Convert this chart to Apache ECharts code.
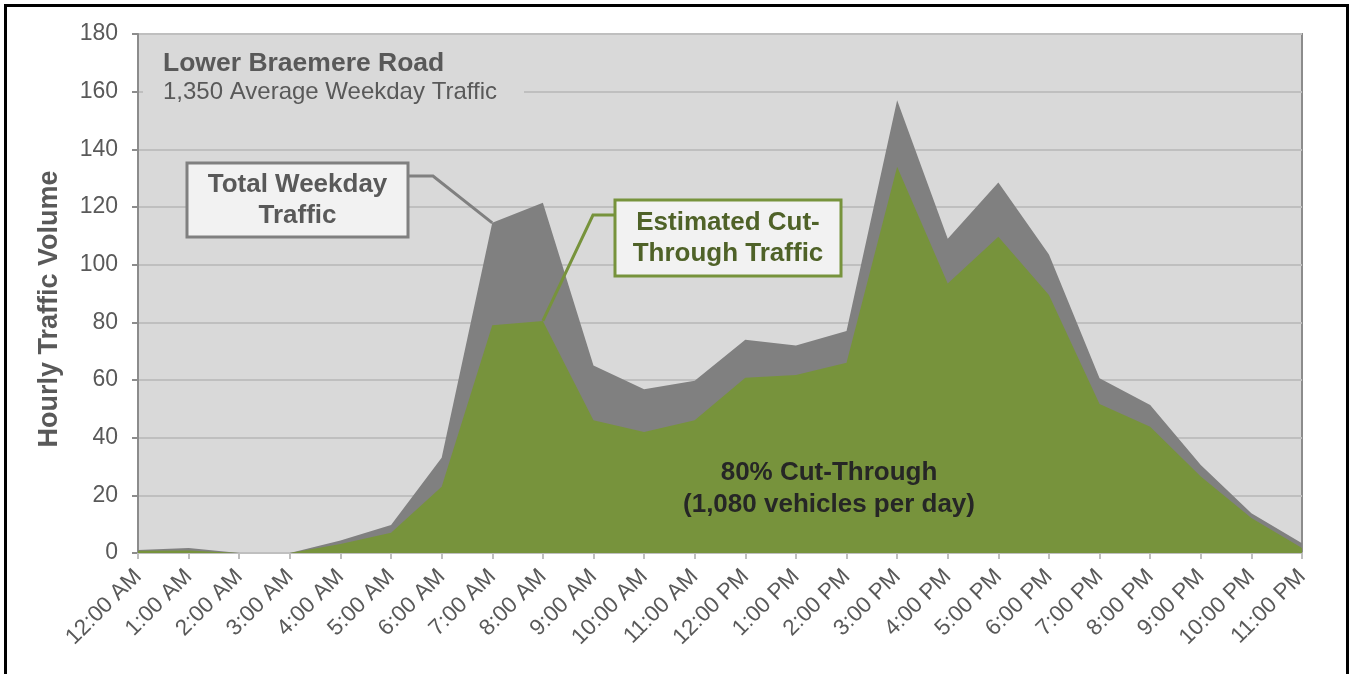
<!DOCTYPE html>
<html>
<head>
<meta charset="utf-8">
<script src="https://cdn.jsdelivr.net/npm/echarts@6/dist/echarts.min.js"></script>
<style>
html,body{margin:0;padding:0;background:#fff;}
#chart{width:1352px;height:674px;}
</style>
</head>
<body>
<div id="chart"></div>
<script>
const hours = ['12:00 AM','1:00 AM','2:00 AM','3:00 AM','4:00 AM','5:00 AM','6:00 AM','7:00 AM','8:00 AM','9:00 AM','10:00 AM','11:00 AM','12:00 PM','1:00 PM','2:00 PM','3:00 PM','4:00 PM','5:00 PM','6:00 PM','7:00 PM','8:00 PM','9:00 PM','10:00 PM','11:00 PM'];
const totalTraffic = [1, 1.7, 0, 0, 4.3, 9.7, 33, 114.5, 121.5, 65, 56.8, 59.7, 74, 72, 77, 157, 109, 128.5, 103.5, 60.6, 51.3, 30.5, 13.8, 3.4];
const cutThrough = [0.8, 0.9, 0, 0, 3.1, 7, 23, 79, 80.5, 46, 42, 46, 60.8, 61.7, 66, 134, 93.5, 109.7, 89.5, 51.7, 43.8, 26.5, 12.1, 1.7];
const yTicks = [0, 20, 40, 60, 80, 100, 120, 140, 160, 180];
const titleText = 'Lower Braemere Road';
const subtitleText = '1,350 Average Weekday Traffic';
const yAxisTitle = 'Hourly Traffic Volume';
const totalLabel = 'Total Weekday\nTraffic';
const cutLabel = 'Estimated Cut-\nThrough Traffic';
const noteText = '80% Cut-Through\n(1,080 vehicles per day)';

const FONT = '"Liberation Sans", Arial, sans-serif';
const chart = echarts.init(document.getElementById('chart'), null, {renderer: 'canvas'});

const option = {
  animation: false,
  backgroundColor: '#ffffff',
  grid: {
    left: 138, right: 50, top: 34, bottom: 121,
    show: true, backgroundColor: '#d9d9d9', borderColor: '#8c8c8c', borderWidth: 2
  },
  xAxis: {
    type: 'category',
    data: hours,
    boundaryGap: false,
    axisLine: {show: true, lineStyle: {color: '#bfbfbf', width: 2}},
    axisTick: {show: true, length: 6, alignWithLabel: true, interval: 0, lineStyle: {color: '#bfbfbf', width: 2}},
    axisLabel: {interval: 0, rotate: 45, margin: 20, color: '#595959', fontSize: 22.5, fontFamily: FONT},
    splitLine: {show: false}
  },
  yAxis: {
    type: 'value',
    min: yTicks[0], max: yTicks[yTicks.length - 1], interval: 20,
    axisLine: {show: true, lineStyle: {color: '#8c8c8c', width: 2}},
    axisTick: {show: true, length: 6, lineStyle: {color: '#8c8c8c', width: 2}},
    axisLabel: {color: '#595959', fontSize: 23, fontFamily: FONT, margin: 20},
    splitLine: {show: true, lineStyle: {color: '#bfbfbf', width: 2}}
  },
  series: [
    {
      name: 'Total Weekday Traffic', type: 'line', data: totalTraffic,
      symbol: 'none', lineStyle: {width: 0}, itemStyle: {color: '#808080'},
      areaStyle: {color: '#808080', opacity: 1}, z: 2
    },
    {
      name: 'Estimated Cut-Through Traffic', type: 'line', data: cutThrough,
      symbol: 'none', lineStyle: {width: 0}, itemStyle: {color: '#77933c'},
      areaStyle: {color: '#77933c', opacity: 1}, z: 3
    }
  ]
};
chart.setOption(option);

const pTotal = chart.convertToPixel({gridIndex: 0}, [7, totalTraffic[7]]);
const pCut = chart.convertToPixel({gridIndex: 0}, [8, cutThrough[8]]);

chart.setOption({
  graphic: [
    {type: 'rect', z: 100, silent: true, shape: {x: 143, y: 44, width: 381, height: 60},
     style: {fill: '#d9d9d9', stroke: null}},
    {type: 'text', z: 101, left: 163, top: 50,
     style: {text: titleText, font: 'bold 26.5px ' + FONT, fill: '#595959'}},
    {type: 'text', z: 101, left: 163, top: 80,
     style: {text: subtitleText, font: '24px ' + FONT, fill: '#595959'}},
    {type: 'text', z: 101, x: 50, y: 309, rotation: Math.PI / 2,
     style: {text: yAxisTitle, font: 'bold 27px ' + FONT, fill: '#595959', align: 'center', verticalAlign: 'middle'}},
    {type: 'polyline', z: 99, shape: {points: [[408, 176], [433, 176], pTotal]},
     style: {stroke: '#808080', lineWidth: 3, fill: null}},
    {type: 'rect', z: 100, shape: {x: 187, y: 163, width: 221, height: 74},
     style: {fill: '#f2f2f2', stroke: '#808080', lineWidth: 3}},
    {type: 'text', z: 101, x: 297.5, y: 200,
     style: {text: totalLabel, font: 'bold 26px ' + FONT, fill: '#595959', align: 'center', verticalAlign: 'middle', lineHeight: 31}},
    {type: 'polyline', z: 99, shape: {points: [[615, 215], [593, 215], pCut]},
     style: {stroke: '#77933c', lineWidth: 3, fill: null}},
    {type: 'rect', z: 100, shape: {x: 615, y: 200, width: 226, height: 76},
     style: {fill: '#f2f2f2', stroke: '#77933c', lineWidth: 3}},
    {type: 'text', z: 101, x: 728, y: 238,
     style: {text: cutLabel, font: 'bold 26px ' + FONT, fill: '#4f6228', align: 'center', verticalAlign: 'middle', lineHeight: 31}},
    {type: 'text', z: 101, x: 829, y: 489,
     style: {text: noteText, font: 'bold 26px ' + FONT, fill: '#262626', align: 'center', verticalAlign: 'middle', lineHeight: 32}},
    {type: 'rect', z: 120, silent: true, shape: {x: 5.5, y: 5.5, width: 1342, height: 700},
     style: {fill: null, stroke: '#000000', lineWidth: 3}}
  ]
});
</script>
</body>
</html>
